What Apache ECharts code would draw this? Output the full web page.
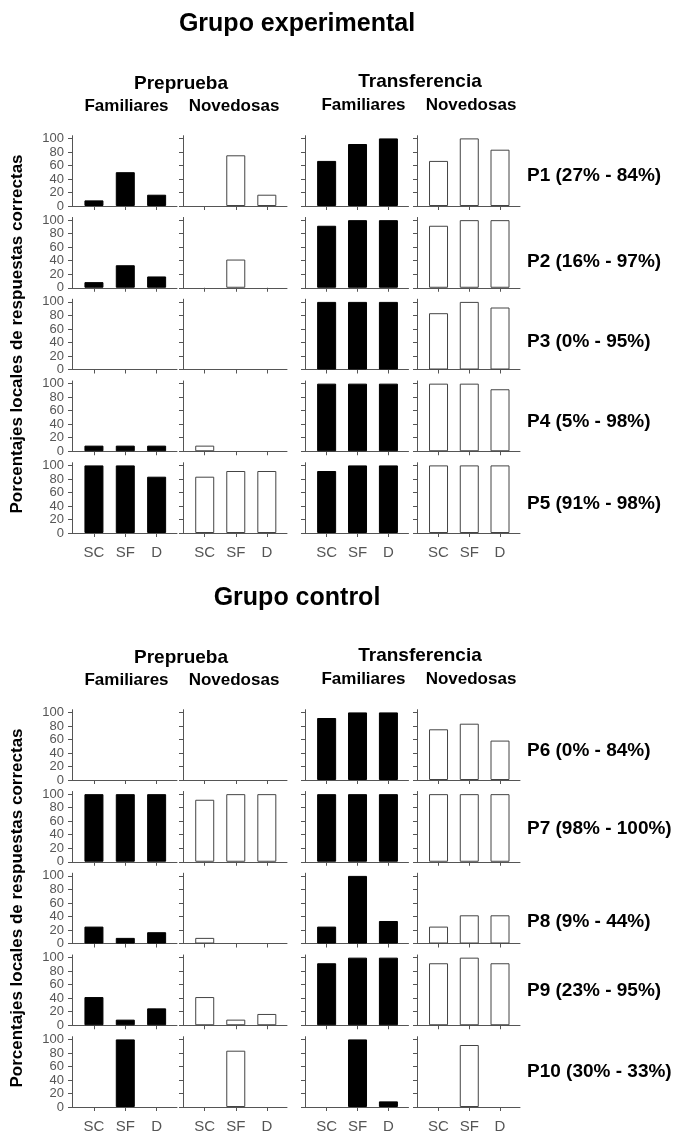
<!DOCTYPE html>
<html>
<head>
<meta charset="utf-8">
<script src="https://cdn.jsdelivr.net/npm/echarts@6/dist/echarts.min.js"></script>
<style>
    html, body { margin: 0; padding: 0; background: #fff; }
    #chart { width: 678px; height: 1135px; }
</style>
</head>
<body>
<div id="chart"></div>
<script>
var categories = ['SC', 'SF', 'D'];
var yTicks = [0, 20, 40, 60, 80, 100];
var expLabels = ['P1 (27% - 84%)', 'P2 (16% - 97%)', 'P3 (0% - 95%)', 'P4 (5% - 98%)', 'P5 (91% - 98%)'];
var ctrlLabels = ['P6 (0% - 84%)', 'P7 (98% - 100%)', 'P8 (9% - 44%)', 'P9 (23% - 95%)', 'P10 (30% - 33%)'];

// one row per participant, values for SC, SF, D
var expPreFam = [[8.3, 50, 16.7], [8.3, 33.3, 16.7], [0, 0, 0], [8.3, 8.3, 8.3], [100, 100, 83.3]];
var expPreNov = [[0, 75, 16.7], [0, 41.7, 0], [0, 0, 0], [8.3, 0, 0], [83.3, 91.7, 91.7]];
var expTrFam = [[66.7, 91.7, 100], [91.7, 100, 100], [100, 100, 100], [100, 100, 100], [91.7, 100, 100]];
var expTrNov = [[66.7, 100, 83.3], [91.7, 100, 100], [83.3, 100, 91.7], [100, 100, 91.7], [100, 100, 100]];

var ctrlPreFam = [[0, 0, 0], [100, 100, 100], [25, 8.3, 16.7], [41.7, 8.3, 25], [0, 100, 0]];
var ctrlPreNov = [[0, 0, 0], [91.7, 100, 100], [8.3, 0, 0], [41.7, 8.3, 16.7], [0, 83.3, 0]];
var ctrlTrFam = [[91.7, 100, 100], [100, 100, 100], [25, 100, 33.3], [91.7, 100, 100], [0, 100, 8.3]];
var ctrlTrNov = [[75, 83.3, 58.3], [100, 100, 100], [25, 41.7, 41.7], [91.7, 100, 91.7], [0, 91.7, 0]];

// layout
var FONT = 'Arial, "Liberation Sans", sans-serif';
var colLeft = [72, 183, 305, 417];
var colRight = [177, 287, 408.5, 520];
var colFill = ['#000', '#fff', '#000', '#fff'];
var panelH = 70.3;   // 0..104
var rowStep = 81.75;

var grids = [], xAxes = [], yAxes = [], series = [], graphics = [];

function txt(x, y, s, size, opts) {
    opts = opts || {};
    graphics.push({
        type: 'text', x: x, y: y, rotation: opts.rot || 0,
        style: {
            text: s, font: 'bold ' + size + 'px ' + FONT, fill: '#000',
            textAlign: opts.align || 'center', textVerticalAlign: 'middle'
        }
    });
}

function addGroup(sets, zero0, labels, labelY) {
    for (var r = 0; r < 5; r++) {
        var zero = zero0 + rowStep * r;
        for (var c = 0; c < 4; c++) {
            var idx = grids.length;
            grids.push({left: colLeft[c], width: colRight[c] - colLeft[c], top: zero - panelH, height: panelH});
            xAxes.push({
                gridIndex: idx, type: 'value', min: -0.7, max: 2.65,
                axisLine: {onZero: false, lineStyle: {color: '#555', width: 1}},
                axisTick: {customValues: [0, 1, 2], length: 4, lineStyle: {color: '#555'}},
                axisLabel: {
                    show: r == 4, customValues: [0, 1, 2], margin: 12,
                    showMinLabel: true, showMaxLabel: true,
                    fontSize: 15, fontFamily: FONT, color: '#555',
                    formatter: function (v) { return categories[Math.round(v)]; }
                },
                splitLine: {show: false}
            });
            yAxes.push({
                gridIndex: idx, type: 'value', min: 0, max: 104,
                axisLine: {show: true, onZero: false, lineStyle: {color: '#555', width: 1}},
                axisTick: {show: true, customValues: yTicks, length: 4, lineStyle: {color: '#555'}},
                axisLabel: {
                    show: c == 0, customValues: yTicks, margin: 8,
                    showMinLabel: true, showMaxLabel: true,
                    fontSize: 13, fontFamily: FONT, color: '#555'
                },
                splitLine: {show: false}
            });
            var d = [];
            sets[c][r].forEach(function (v, i) {
                if (v > 0) d.push([i, v]);
            });
            series.push({
                type: 'bar', xAxisIndex: idx, yAxisIndex: idx, barWidth: 19,
                data: d, silent: true,
                itemStyle: {color: colFill[c], borderColor: c % 2 ? '#444' : '#000', borderWidth: 1}
            });
        }
        txt(527, labelY[r], labels[r], 19, {align: 'left'});
    }
}

addGroup([expPreFam, expPreNov, expTrFam, expTrNov], 206, expLabels, [175.5, 262, 342, 422, 503.5]);
addGroup([ctrlPreFam, ctrlPreNov, ctrlTrFam, ctrlTrNov], 780, ctrlLabels, [750.5, 828.5, 922, 990.5, 1072]);

// headings
[0, 574].forEach(function (dy, g) {
    txt(297, 24 + dy, g == 0 ? 'Grupo experimental' : 'Grupo control', 25);
    txt(181, 83.5 + dy, 'Preprueba', 19);
    txt(420, 82 + dy, 'Transferencia', 19);
    txt(126.5, 106 + dy, 'Familiares', 17);
    txt(234, 106 + dy, 'Novedosas', 17);
    txt(363.5, 105 + dy, 'Familiares', 17);
    txt(471, 105 + dy, 'Novedosas', 17);
    txt(17.5, 334 + dy, 'Porcentajes locales de respuestas correctas', 17, {rot: Math.PI / 2});
});

var myChart = echarts.init(document.getElementById('chart'));
myChart.setOption({
    animation: false,
    backgroundColor: '#fff',
    grid: grids,
    xAxis: xAxes,
    yAxis: yAxes,
    series: series,
    graphic: graphics
});
</script>
</body>
</html>
